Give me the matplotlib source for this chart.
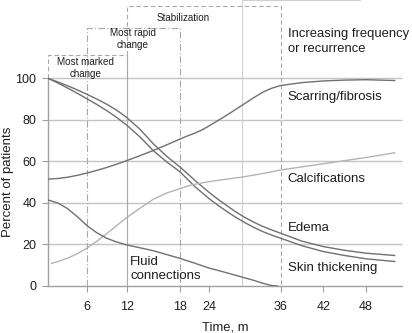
import numpy as np
import matplotlib
matplotlib.use("Agg")
import matplotlib.pyplot as plt

plt.rcParams['font.family'] = ['Liberation Sans', 'DejaVu Sans']

# Time axis of the original figure is drawn with uneven spacing:
# knots pairing months with their place along the axis.
AXIS_MONTHS = [0, 6, 12, 18, 24, 36, 42, 48, 54]
AXIS_POS = [48.3, 86.7, 126.7, 180.0, 209.3, 280.7, 323.3, 366.0, 409.0]

tick_months = [6, 12, 18, 24, 36, 42, 48]
y_ticks = [0, 20, 40, 60, 80, 100]

# Curves (months, percent of patients)
months = [0, 1.5, 3, 4.5, 6, 7.5, 9, 10.5, 12, 13.5, 15, 16.5, 18, 19.5, 21,
          22.5, 24, 25.5, 27, 28.5, 30, 31.5, 33, 34.5, 36, 39, 42, 45, 48, 52]
edema = [100, 98.3, 96.5, 94.5, 92.4, 90.1, 87.6, 84.7, 81.2, 75.5, 68.5,
         62.5, 57.3, 54.2, 51, 48, 45, 41.7, 38.6, 35.6, 33, 30.7, 28.7, 27,
         25.4, 21.6, 19.0, 17.2, 15.8, 14.7]
skin = [100, 97.8, 95.4, 92.9, 90.3, 87.5, 84.5, 81.2, 77.5, 71.8, 65.2,
        59.8, 55, 51.5, 48, 45, 42, 38.8, 35.8, 33, 30.5, 28.2, 26.2, 24.5,
        23, 19.4, 16.6, 14.7, 13.1, 11.8]
scarring = [51.5, 51.8, 52.4, 53.3, 54.4, 55.7, 57.1, 58.7, 60.4, 62.8, 65.3,
            68, 70.8, 72.3, 73.6, 75.2, 77.2, 79.8, 82.4, 85.2, 88, 90.8, 93.4,
            95.3, 96.6, 98, 98.8, 99.2, 99.4, 99]

calc_months = [0.5, 1.5, 3, 4.5, 6, 7.5, 9, 10.5, 12, 13.5, 15, 16.5, 18,
               19.5, 21, 22.5, 24, 27, 30, 33, 36, 39, 42, 45, 48, 52]
calcifications = [10.9, 11.8, 13.4, 15.5, 18.2, 21.5, 25.2, 29.1, 33, 37.5,
                  41.8, 44.8, 46.9, 48.1, 49, 49.7, 50.3, 51.5, 52.7, 54.2,
                  55.9, 57.4, 58.9, 60.4, 61.9, 64.2]

fluid_months = [0, 1.5, 3, 4.5, 6, 7.5, 9, 10.5, 12, 13.5, 15, 18, 21, 24,
                25.5, 27, 28.5, 30, 31.5, 33, 34.5, 35.5]
fluid = [41.4, 40, 37.3, 33.5, 29.2, 25.7, 23.0, 21.2, 19.8, 18.4, 17, 13.3,
         11, 8.6, 7.5, 6.3, 5.1, 3.9, 2.7, 1.3, 0.2, 0]

# Phase boxes: (start month, end month, top, label)
marked = (0, 12, 111.3, "Most marked\nchange")
rapid = (6, 18, 124.5, "Most rapid\nchange")
stable = (12, 36, 134.9, "Stabilization")
recur = (29.5, 47.2, 137.6, "Increasing frequency\nor recurrence")


def forward(m):
    return np.interp(m, AXIS_MONTHS, AXIS_POS)


def inverse(p):
    return np.interp(p, AXIS_POS, AXIS_MONTHS)


fig = plt.figure(figsize=(4.12, 3.33), dpi=100)
ax = fig.add_axes([48.3 / 412, 47 / 333, (409 - 48.3) / 412, 286 / 333])
ax.set_xscale('function', functions=(forward, inverse))
ax.set_xlim(0, 54)
ax.set_ylim(0, 137.8)

grid_c = '#c4c4c4'
box_c = '#a8a8a8'
line_c = '#707070'
text_c = '#1e1e1e'

# Horizontal grid lines
ax.hlines([20, 40, 60, 80, 100], 0, 53, color=grid_c, lw=1.0, zorder=1)

# Phase boxes
ax.plot([0, 0, marked[1], marked[1]], [100, marked[2], marked[2], 0],
        color=box_c, lw=0.8, ls=(0, (4, 2.5)), zorder=2)
ax.plot([rapid[0], rapid[0], rapid[1], rapid[1]], [0, rapid[2], rapid[2], 0],
        color=box_c, lw=0.8, ls=(0, (6, 2, 1, 2)), zorder=2)
ax.plot([stable[0], stable[0], stable[1], stable[1]], [0, stable[2], stable[2], 0],
        color=box_c, lw=0.8, ls=(0, (4, 2.5)), zorder=2)
ax.plot([recur[0], recur[0], recur[1]], [0, recur[2], recur[2]],
        color='#cfcfcf', lw=0.8, zorder=2, clip_on=False)

# Curves
ax.plot(months, edema, color=line_c, lw=1.0, zorder=3)
ax.plot(months, skin, color=line_c, lw=1.0, zorder=3)
ax.plot(months, scarring, color=line_c, lw=1.0, zorder=3)
ax.plot(calc_months, calcifications, color='#b4b4b4', lw=1.0, zorder=3)
ax.plot(fluid_months, fluid, color=line_c, lw=1.0, zorder=3)

# Box captions
small = dict(fontsize=7.1, color=text_c, ha='center', va='center')
ax.text(5.8, 105.1, marked[3], **small)
ax.text(12.7, 119.0, rapid[3], **small)
ax.text(18.6, 129.2, stable[3], **small)
ax.text(37, 117.8, recur[3], fontsize=9.4, color=text_c, ha='left',
        va='center', linespacing=1.3)

# Curve labels
lab = dict(fontsize=9.5, color=text_c, ha='left', va='center')
ax.text(37, 91.2, "Scarring/fibrosis", **lab)
ax.text(37, 51.4, "Calcifications", **lab)
ax.text(37, 28, "Edema", **lab)
ax.text(37, 8.7, "Skin thickening", **lab)
ax.text(12.4, 8.2, "Fluid\nconnections", linespacing=1.3, **lab)

# Axes styling
for side in ['top', 'right']:
    ax.spines[side].set_visible(False)
ax.spines['left'].set_bounds(0, 100)
ax.spines['bottom'].set_bounds(0, 53)
for side in ['left', 'bottom']:
    ax.spines[side].set_color('#a0a0a0')
    ax.spines[side].set_linewidth(1.0)

ax.set_xticks(tick_months)
ax.set_xticklabels([str(t) for t in tick_months])
ax.set_yticks(y_ticks)
ax.minorticks_off()
ax.tick_params(axis='both', colors='#a0a0a0', labelcolor=text_c,
               labelsize=9, length=4.5, width=0.8)
ax.tick_params(axis='x', pad=6)
ax.tick_params(axis='y', pad=4)

fig.text(225.5 / 412, 1 - 327 / 333, "Time, m", fontsize=9.4, color=text_c,
         ha='center', va='center')
fig.text(8 / 412, 1 - 181.7 / 333, "Percent of patients", fontsize=9.5,
         color=text_c, ha='center', va='center', rotation=90)

fig.savefig("out.png", dpi=100)
